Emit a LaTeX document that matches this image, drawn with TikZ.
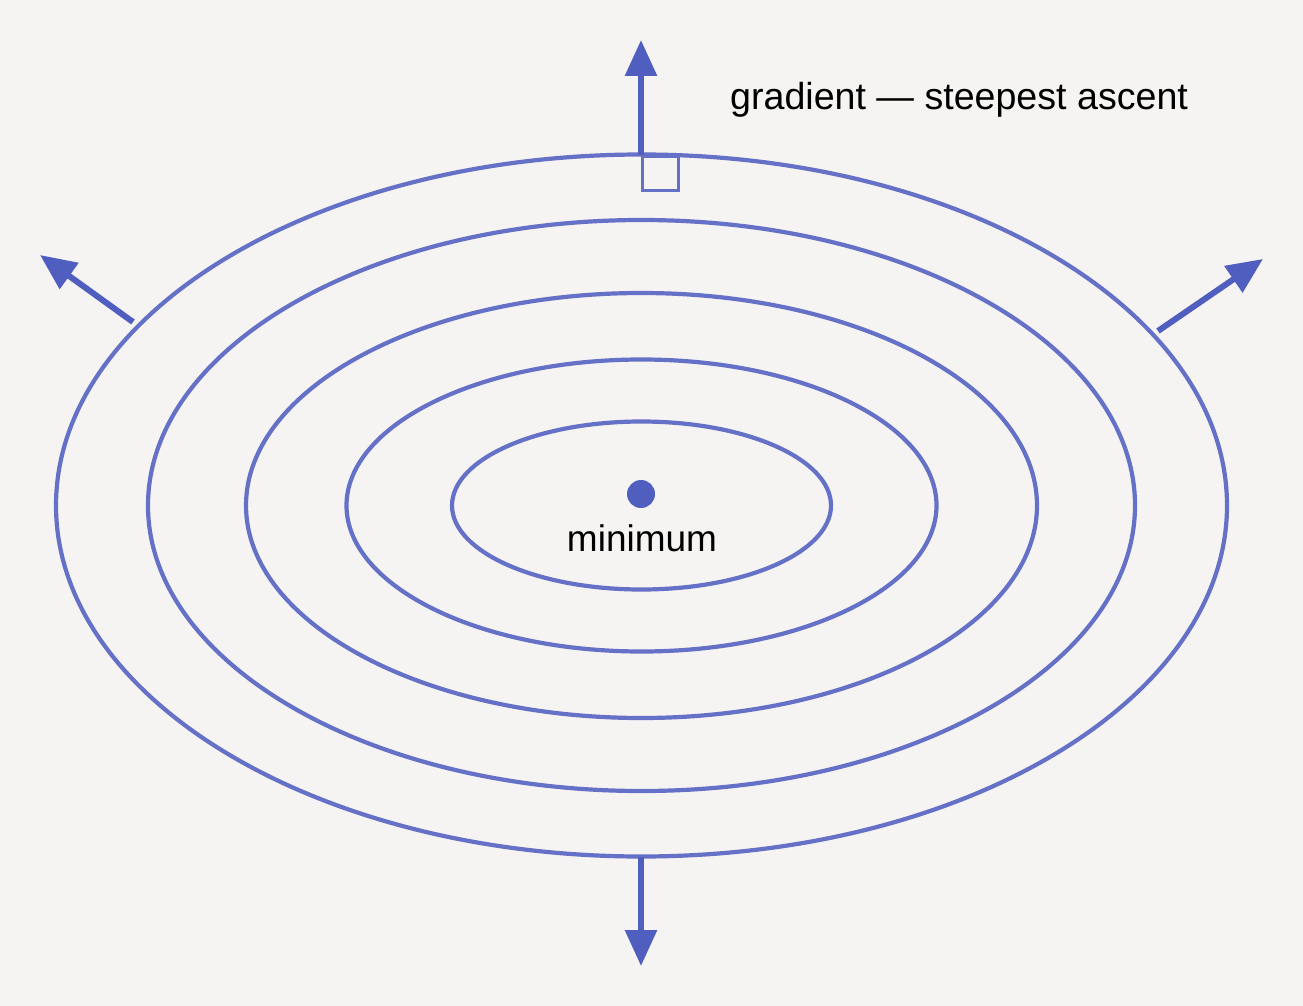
\documentclass[tikz,border=0pt]{standalone}
\usepackage{fontspec}
\setmainfont{Liberation Sans}
\usetikzlibrary{arrows.meta}
\definecolor{bgc}{HTML}{F5F4F2}
\definecolor{ringc}{HTML}{6571C6}
\definecolor{arrc}{HTML}{4F5EBF}
\tikzset{
  ring/.style={draw=ringc, line width=4.2pt},
  gradarrow/.style={draw=arrc, line width=6pt, -{Triangle[length=36pt,width=31pt]}},
  lbl/.style={font=\fontsize{37}{44}\selectfont, text=black, inner sep=0pt},
}
\begin{document}
\begin{tikzpicture}[x=1pt,y=-1pt]
\fill[bgc] (0,0) rectangle (1303,1006);
\useasboundingbox (0,0) rectangle (1303,1006);
\coordinate (c) at (641.5,505.5);
\draw[ring] (c) ellipse [x radius=585.5pt, y radius=351pt];
\draw[ring] (c) ellipse [x radius=493.5pt, y radius=285.5pt];
\draw[ring] (c) ellipse [x radius=395.5pt, y radius=212.5pt];
\draw[ring] (c) ellipse [x radius=295pt, y radius=146pt];
\draw[ring] (c) ellipse [x radius=189.5pt, y radius=84pt];
% minimum
\node[circle, fill=arrc, minimum size=28pt, inner sep=0pt] (min) at (641,494) {};
\node[lbl, anchor=base] (minlbl) at (642,551) {minimum};
% gradient arrows
\coordinate (topS) at (641,155);
\coordinate (topE) at (641,40);
\coordinate (botS) at (641,857);
\coordinate (botE) at (641,966);
\coordinate (lS) at (133,322);
\coordinate (lE) at (40,255);
\coordinate (rS) at (1158,331);
\coordinate (rE) at (1263,259);
\draw[gradarrow] (topS) -- (topE);
\draw[gradarrow] (botS) -- (botE);
\draw[gradarrow] (lS) -- (lE);
\draw[gradarrow] (rS) -- (rE);
% right-angle marker
\draw[draw=ringc, line width=3pt] (642,156) rectangle (678,190);
\node[lbl, anchor=base west, font=\fontsize{37.6}{44}\selectfont] (glbl) at (730,110) {gradient — steepest ascent};
\end{tikzpicture}
\end{document}
